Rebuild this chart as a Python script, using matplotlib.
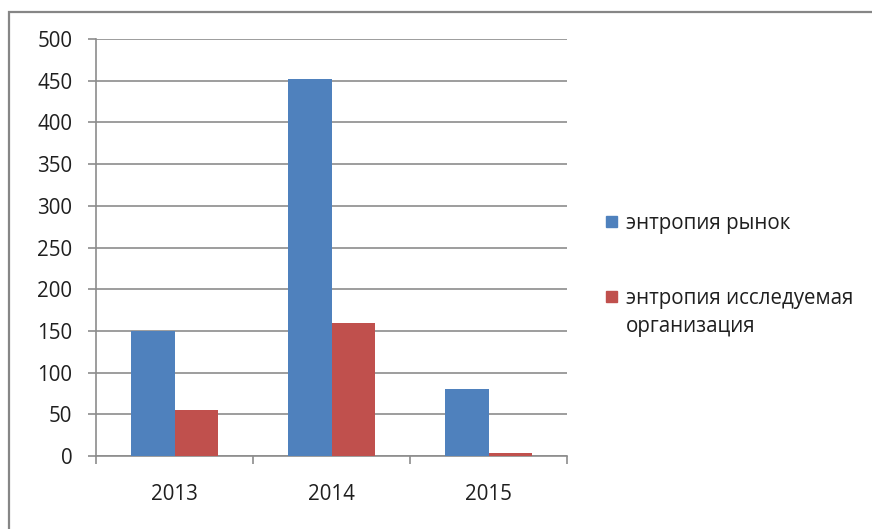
import matplotlib
matplotlib.use("Agg")
import matplotlib.pyplot as plt
from matplotlib.patches import Rectangle
import numpy as np

plt.rcParams['font.family'] = ['Open Sans', 'DejaVu Sans']

years = ["2013", "2014", "2015"]
series_names = ["энтропия рынок", "энтропия исследуемая\nорганизация"]
market = [150, 452, 80]
organization = [55, 160, 3]
colors = ["#4F81BD", "#C0504D"]

W, H = 872, 529
fig = plt.figure(figsize=(W / 100, H / 100), dpi=100)
ax = fig.add_axes([96 / W, 1 - 456 / H, (567 - 96) / W, (456 - 39) / H])

x = np.arange(len(years))
bw = 0.28
ax.bar(x - bw / 2, market, bw, color=colors[0], zorder=3)
ax.bar(x + bw / 2, organization, bw, color=colors[1], zorder=3)

ax.set_xlim(-0.5, len(years) - 0.5)
ax.set_ylim(0, 500)
ax.set_yticks(np.arange(0, 501, 50))
ax.yaxis.grid(True, color="#8c8c8c", linewidth=1.2, zorder=0)

grey = "#8c8c8c"
for s in ["top", "right"]:
    ax.spines[s].set_visible(False)
for s in ["left", "bottom"]:
    ax.spines[s].set_color(grey)
    ax.spines[s].set_linewidth(1.2)

txt = "#1f1f1f"
fs = 14.8
ax.tick_params(axis="y", length=6, width=1.2, color=grey, pad=11,
               labelsize=fs, labelcolor=txt)
# category boundaries carry the tick marks, centres carry the labels
ax.set_xticks(np.arange(-0.5, len(years), 1.0))
ax.set_xticklabels([])
ax.set_xticks(x, minor=True)
ax.set_xticklabels(years, minor=True)
ax.tick_params(axis="x", which="major", length=6, width=1.2, color=grey)
ax.tick_params(axis="x", which="minor", length=0, pad=20,
               labelsize=fs, labelcolor=txt)

# legend
leg_y = [222, 297]
for name, c, yy in zip(series_names, colors, leg_y):
    fig.patches.append(Rectangle((606 / W, 1 - (yy + 5) / H), 11 / W, 11 / H,
                                 transform=fig.transFigure, color=c))
    fig.text(626 / W, 1 - (yy - 9) / H, name, fontsize=fs, color=txt,
             va="top", ha="left", linespacing=1.45)

# chart frame
fig.patches.append(Rectangle((9 / W, -0.2), 1.5, 1 - 12 / H + 0.2,
                             transform=fig.transFigure, fill=False,
                             edgecolor="#868686", linewidth=1.6))

fig.savefig("out.png", dpi=100)
